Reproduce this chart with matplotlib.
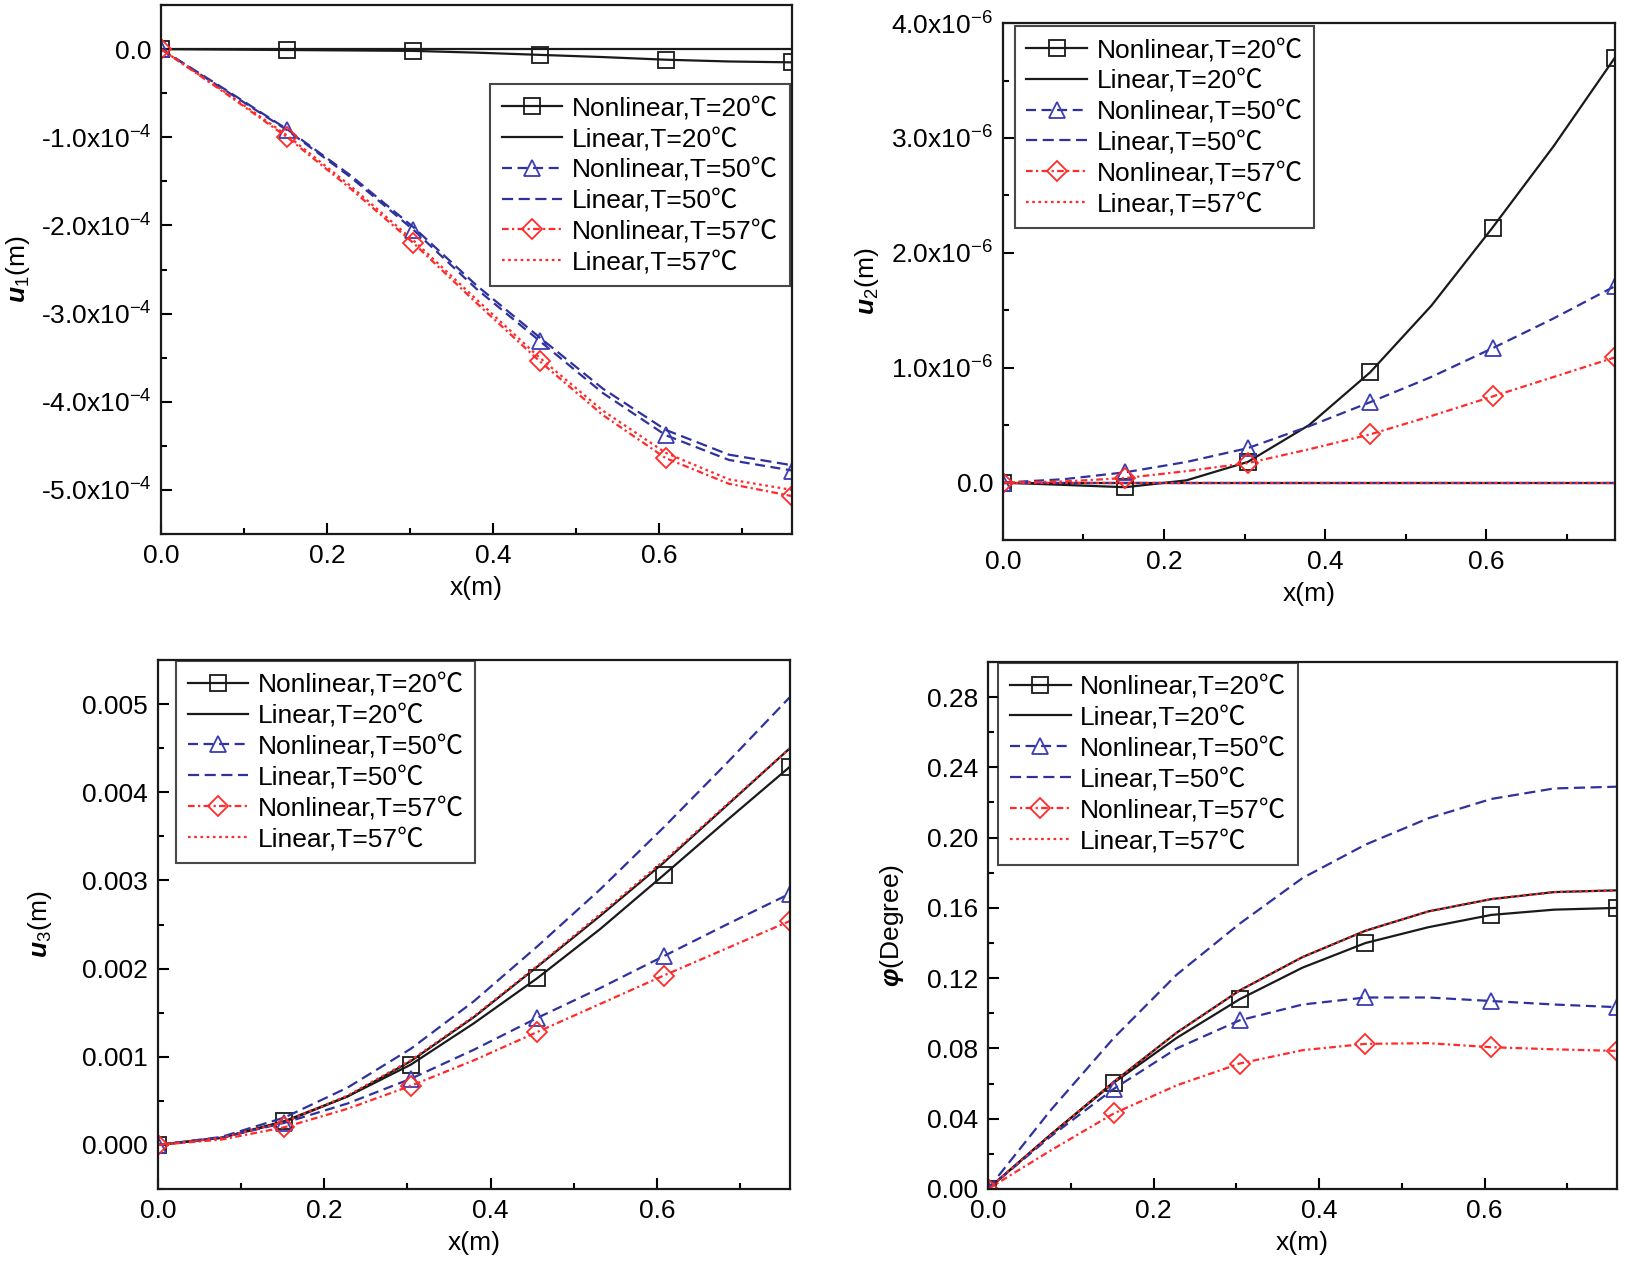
import numpy as np
import matplotlib
matplotlib.use("Agg")
import matplotlib.pyplot as plt
from matplotlib.ticker import MultipleLocator

plt.rcParams["font.family"] = ["Liberation Sans", "Noto Sans CJK SC", "DejaVu Sans"]
plt.rcParams["mathtext.fontset"] = "custom"
plt.rcParams["mathtext.rm"] = "Liberation Sans"
plt.rcParams["mathtext.it"] = "Liberation Sans:italic:bold"

# x positions along the beam (m); markers sit on every second point
x = [0, 0.076, 0.152, 0.228, 0.304, 0.38, 0.456, 0.532, 0.608, 0.684, 0.76]

labels = ["Nonlinear,T=20℃", "Linear,T=20℃", "Nonlinear,T=50℃",
          "Linear,T=50℃", "Nonlinear,T=57℃", "Linear,T=57℃"]

# u1 (x1e-4 m)
u1_nl20 = [0, -0.005, -0.01, -0.015, -0.02, -0.04, -0.065, -0.09, -0.12, -0.14, -0.15]
u1_l20 = [0, 0, 0, 0, 0, 0, 0, 0, 0, 0, 0]
u1_nl50 = [0, -0.46, -0.92, -1.45, -2.05, -2.72, -3.31, -3.9, -4.38, -4.66, -4.78]
u1_l50 = [0, -0.45, -0.91, -1.43, -2.02, -2.68, -3.27, -3.85, -4.32, -4.6, -4.72]
u1_nl57 = [0, -0.49, -1.0, -1.58, -2.2, -2.88, -3.54, -4.15, -4.64, -4.93, -5.07]
u1_l57 = [0, -0.48, -0.98, -1.55, -2.17, -2.84, -3.5, -4.1, -4.58, -4.88, -5.0]

# u2 (x1e-6 m)
u2_nl20 = [0, -0.02, -0.04, 0.02, 0.18, 0.5, 0.96, 1.54, 2.22, 2.93, 3.7]
u2_l20 = [0, 0, 0, 0, 0, 0, 0, 0, 0, 0, 0]
u2_nl50 = [0, 0.03, 0.09, 0.18, 0.3, 0.49, 0.7, 0.92, 1.17, 1.43, 1.71]
u2_l50 = [0, 0, 0, 0, 0, 0, 0, 0, 0, 0, 0]
u2_nl57 = [0, 0.01, 0.04, 0.1, 0.17, 0.29, 0.42, 0.58, 0.75, 0.92, 1.09]
u2_l57 = [0, 0, 0, 0, 0, 0, 0, 0, 0, 0, 0]

# u3 (m x1e-3)
u3_nl20 = [0, 0.08, 0.27, 0.55, 0.91, 1.38, 1.89, 2.45, 3.06, 3.68, 4.29]
u3_l20 = [0, 0.08, 0.26, 0.55, 0.95, 1.45, 2.02, 2.6, 3.2, 3.85, 4.5]
u3_nl50 = [0, 0.08, 0.25, 0.47, 0.75, 1.08, 1.44, 1.78, 2.14, 2.5, 2.85]
u3_l50 = [0, 0.09, 0.31, 0.65, 1.09, 1.63, 2.25, 2.9, 3.6, 4.33, 5.08]
u3_nl57 = [0, 0.06, 0.2, 0.41, 0.67, 0.96, 1.28, 1.6, 1.92, 2.23, 2.54]
u3_l57 = [0, 0.08, 0.26, 0.56, 0.96, 1.46, 2.03, 2.62, 3.22, 3.86, 4.5]

# rotation phi (degree)
phi_nl20 = [0, 0.031, 0.0605, 0.086, 0.108, 0.126, 0.14, 0.149, 0.156, 0.159, 0.16]
phi_l20 = [0, 0.031, 0.061, 0.089, 0.113, 0.132, 0.147, 0.158, 0.165, 0.169, 0.17]
phi_nl50 = [0, 0.03, 0.057, 0.08, 0.096, 0.105, 0.109, 0.109, 0.107, 0.105, 0.1035]
phi_l50 = [0, 0.045, 0.086, 0.122, 0.151, 0.177, 0.196, 0.211, 0.222, 0.228, 0.229]
phi_nl57 = [0, 0.022, 0.043, 0.059, 0.0714, 0.079, 0.0826, 0.083, 0.0807, 0.0795, 0.0786]
phi_l57 = [0, 0.031, 0.061, 0.089, 0.113, 0.132, 0.147, 0.158, 0.165, 0.169, 0.17]

BLACK = "#1a1a1a"
BLUE = "#2f329c"
RED = "#ff2a2a"

styles = [
    dict(color=BLACK, ls="-", marker="s", mec=BLACK),
    dict(color=BLACK, ls="-"),
    dict(color=BLUE, ls=(0, (4.5, 2.5)), marker="^", mec="#3c3cb4"),
    dict(color=BLUE, ls=(0, (5, 2.5))),
    dict(color=RED, ls=(0, (3, 1.5, 1, 1.5)), marker="D", mec=RED),
    dict(color=RED, ls=(0, (1.2, 1.6))),
]

FS = 19

fig = plt.figure(figsize=(16.25, 12.63), dpi=100)


def panel(rect, series, scale, ylim, yticks, yticklabels, ymin_step, ylabel,
          ylabel_x, leg_anchor):
    ax = fig.add_axes(rect)
    for s, lab, st in zip(series, labels, styles):
        y = np.array(s) * scale
        kw = dict(st)
        if "marker" in kw:
            kw.update(mfc="none", ms=12 if kw["marker"] != "D" else 10.5,
                      mew=1.3, markevery=2)
        ax.plot(x, y, lw=1.6, label=lab, **kw)
    ax.set_xlim(0, 0.76)
    ax.set_ylim(*ylim)
    ax.set_xticks([0, 0.2, 0.4, 0.6], ["0.0", "0.2", "0.4", "0.6"])
    ax.xaxis.set_minor_locator(MultipleLocator(0.1))
    ax.set_yticks(yticks, yticklabels)
    ax.yaxis.set_minor_locator(MultipleLocator(ymin_step))
    ax.tick_params(which="both", direction="in", top=False, right=False,
                   labelsize=FS, width=1.5, pad=7)
    ax.tick_params(which="major", length=8)
    ax.tick_params(which="minor", length=4.5)
    for sp in ax.spines.values():
        sp.set_linewidth(1.6)
        sp.set_color(BLACK)
    ax.set_xlabel("x(m)", fontsize=FS, labelpad=6)
    ax.set_ylabel(ylabel, fontsize=FS)
    ax.yaxis.set_label_coords(ylabel_x, 0.5)
    leg = ax.legend(loc="upper left", bbox_to_anchor=leg_anchor, fontsize=FS,
                    frameon=True, fancybox=False, edgecolor=BLACK,
                    handlelength=2.3, handletextpad=0.35, labelspacing=0.26,
                    borderpad=0.45, borderaxespad=0, numpoints=1)
    leg.get_frame().set_linewidth(1.5)
    return ax


panel([0.0991, 0.5772, 0.3883, 0.4188],
      [u1_nl20, u1_l20, u1_nl50, u1_l50, u1_nl57, u1_l57], 1e-4,
      (-5.5e-4, 0.5e-4), [-5e-4, -4e-4, -3e-4, -2e-4, -1e-4, 0],
      [r"-5.0x10$^{-4}$", r"-4.0x10$^{-4}$", r"-3.0x10$^{-4}$",
       r"-2.0x10$^{-4}$", r"-1.0x10$^{-4}$", "0.0"],
      0.5e-4, r"$u$$_1$(m)", -0.205, (0.521, 0.85))

panel([0.6172, 0.5724, 0.3766, 0.4093],
      [u2_nl20, u2_l20, u2_nl50, u2_l50, u2_nl57, u2_l57], 1e-6,
      (-0.5e-6, 4.0e-6), [0, 1e-6, 2e-6, 3e-6, 4e-6],
      ["0.0", r"1.0x10$^{-6}$", r"2.0x10$^{-6}$", r"3.0x10$^{-6}$",
       r"4.0x10$^{-6}$"],
      0.5e-6, r"$u$$_2$(m)", -0.2, (0.019, 0.994))

panel([0.0972, 0.0586, 0.3889, 0.4188],
      [u3_nl20, u3_l20, u3_nl50, u3_l50, u3_nl57, u3_l57], 1e-3,
      (-0.0005, 0.0055), [0, 0.001, 0.002, 0.003, 0.004, 0.005],
      ["0.000", "0.001", "0.002", "0.003", "0.004", "0.005"],
      0.0005, r"$u$$_3$(m)", -0.165, (0.028, 0.998))

panel([0.6080, 0.0586, 0.3871, 0.4173],
      [phi_nl20, phi_l20, phi_nl50, phi_l50, phi_nl57, phi_l57], 1.0,
      (0, 0.30), [0, 0.04, 0.08, 0.12, 0.16, 0.20, 0.24, 0.28],
      ["0.00", "0.04", "0.08", "0.12", "0.16", "0.20", "0.24", "0.28"],
      0.02, r"$\varphi$(Degree)", -0.13, (0.016, 0.998))

fig.savefig("out.png", dpi=100)
